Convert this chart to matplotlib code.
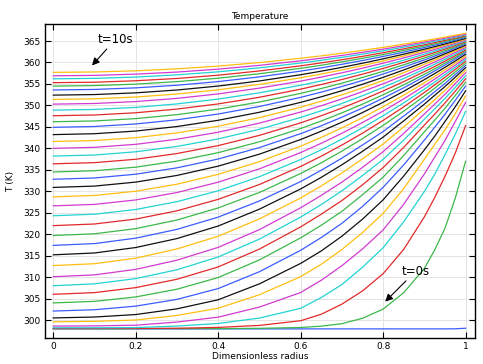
import matplotlib
matplotlib.use("Agg")
import matplotlib.pyplot as plt

# dimensionless radius where each profile was read
radius = [0, 0.1, 0.2, 0.3, 0.4, 0.5, 0.6, 0.65, 0.7, 0.75, 0.8, 0.85, 0.9, 0.925, 0.95, 0.975, 1.0]

# temperature profiles (K), one row per output time, t = 0 s ... 10 s
profiles = [
    [297.95, 297.95, 297.95, 297.95, 297.95, 297.95, 297.95, 297.95, 297.95, 297.95, 297.95, 297.95, 297.95, 297.95, 297.95, 297.97, 298.1],
    [298.0, 298.0, 298.0, 298.0, 298.0, 298.08, 298.27, 298.59, 299.17, 300.42, 302.56, 306.39, 312.04, 316.33, 321.4, 328.42, 337.0],
    [298.05, 298.05, 298.05, 298.1, 298.29, 298.76, 299.85, 301.36, 303.72, 306.79, 310.81, 316.48, 324.04, 328.53, 333.49, 338.92, 345.3],
    [298.2, 298.2, 298.25, 298.6, 299.21, 300.47, 302.74, 305.26, 308.28, 312.31, 316.85, 322.9, 329.95, 333.98, 338.52, 343.31, 348.6],
    [298.6, 298.65, 298.81, 299.54, 300.68, 303.03, 306.42, 309.28, 312.67, 316.57, 321.0, 326.99, 334.03, 337.94, 341.84, 346.27, 350.7],
    [299.6, 299.71, 300.02, 301.07, 302.76, 305.91, 310.12, 313.01, 316.43, 320.38, 324.85, 330.63, 337.47, 340.89, 344.31, 348.1, 352.2],
    [300.5, 300.71, 301.29, 302.62, 304.73, 308.44, 313.2, 316.11, 319.54, 323.51, 328.01, 333.56, 339.65, 342.82, 346.26, 349.7, 353.4],
    [302.1, 302.41, 303.25, 304.82, 307.34, 311.27, 316.25, 319.23, 322.54, 326.47, 330.92, 336.16, 341.92, 344.91, 347.95, 351.2, 354.5],
    [304.0, 304.36, 305.39, 307.19, 309.91, 314.02, 319.16, 322.09, 325.33, 329.19, 333.3, 338.34, 343.84, 346.56, 349.33, 352.32, 355.4],
    [306.0, 306.4, 307.56, 309.51, 312.38, 316.54, 321.71, 324.67, 327.84, 331.5, 335.52, 340.24, 345.41, 347.97, 350.58, 353.34, 356.2],
    [308.0, 308.44, 309.66, 311.72, 314.7, 318.86, 323.99, 326.92, 330.1, 333.67, 337.44, 341.94, 346.78, 349.17, 351.62, 354.21, 356.9],
    [310.1, 310.53, 311.81, 313.95, 316.94, 321.07, 326.16, 329.05, 332.14, 335.56, 339.22, 343.49, 348.01, 350.29, 352.61, 355.08, 357.6],
    [312.7, 313.13, 314.43, 316.57, 319.53, 323.57, 328.44, 331.26, 334.27, 337.54, 341.0, 345.01, 349.19, 351.33, 353.51, 355.83, 358.2],
    [315.2, 315.63, 316.9, 318.99, 321.91, 325.84, 330.55, 333.25, 336.17, 339.31, 342.62, 346.42, 350.3, 352.35, 354.4, 356.58, 358.8],
    [317.4, 317.82, 319.08, 321.13, 323.98, 327.75, 332.27, 334.91, 337.72, 340.78, 343.92, 347.53, 351.21, 353.18, 355.11, 357.21, 359.3],
    [319.7, 320.1, 321.3, 323.31, 326.12, 329.73, 334.14, 336.64, 339.35, 342.26, 345.36, 348.67, 352.18, 354.01, 355.89, 357.82, 359.8],
    [322.0, 322.38, 323.53, 325.45, 328.13, 331.58, 335.79, 338.18, 340.77, 343.54, 346.51, 349.67, 353.02, 354.77, 356.57, 358.41, 360.3],
    [324.3, 324.66, 325.76, 327.58, 330.12, 333.4, 337.4, 339.68, 342.14, 344.78, 347.6, 350.6, 353.78, 355.44, 357.15, 358.9, 360.7],
    [326.6, 326.95, 327.98, 329.71, 332.12, 335.23, 339.02, 341.18, 343.51, 346.01, 348.68, 351.53, 354.55, 356.12, 357.74, 359.4, 361.1],
    [328.7, 329.03, 330.01, 331.65, 333.95, 336.9, 340.51, 342.56, 344.77, 347.15, 349.69, 352.4, 355.27, 356.76, 358.3, 359.88, 361.5],
    [330.9, 331.21, 332.14, 333.69, 335.86, 338.65, 342.06, 344.0, 346.09, 348.34, 350.74, 353.3, 356.01, 357.42, 358.88, 360.37, 361.9],
    [332.8, 333.1, 333.98, 335.46, 337.52, 340.18, 343.42, 345.26, 347.26, 349.39, 351.68, 354.11, 356.7, 358.04, 359.42, 360.84, 362.3],
    [334.5, 334.78, 335.62, 337.03, 339.0, 341.53, 344.62, 346.37, 348.27, 350.31, 352.48, 354.8, 357.26, 358.54, 359.86, 361.21, 362.6],
    [336.4, 336.67, 337.46, 338.79, 340.64, 343.03, 345.94, 347.6, 349.39, 351.31, 353.36, 355.55, 357.87, 359.07, 360.32, 361.59, 362.9],
    [338.2, 338.45, 339.2, 340.45, 342.2, 344.45, 347.2, 348.76, 350.45, 352.26, 354.2, 356.26, 358.45, 359.59, 360.76, 361.97, 363.2],
    [340.0, 340.24, 340.94, 342.12, 343.76, 345.88, 348.46, 349.93, 351.52, 353.22, 355.04, 356.98, 359.04, 360.11, 361.21, 362.34, 363.5],
    [341.6, 341.82, 342.49, 343.6, 345.15, 347.15, 349.59, 350.98, 352.48, 354.09, 355.81, 357.64, 359.58, 360.59, 361.64, 362.7, 363.8],
    [343.2, 343.41, 344.03, 345.08, 346.54, 348.41, 350.71, 352.01, 353.42, 354.93, 356.54, 358.26, 360.09, 361.04, 362.02, 363.02, 364.05],
    [344.9, 345.09, 345.68, 346.65, 348.0, 349.75, 351.88, 353.1, 354.41, 355.81, 357.32, 358.92, 360.61, 361.5, 362.41, 363.34, 364.3],
    [346.2, 346.38, 346.93, 347.85, 349.14, 350.79, 352.81, 353.95, 355.19, 356.52, 357.94, 359.46, 361.06, 361.9, 362.76, 363.64, 364.55],
    [347.6, 347.77, 348.29, 349.15, 350.35, 351.9, 353.79, 354.87, 356.03, 357.28, 358.61, 360.03, 361.53, 362.32, 363.12, 363.95, 364.8],
    [348.9, 349.06, 349.54, 350.35, 351.48, 352.93, 354.7, 355.7, 356.79, 357.96, 359.2, 360.53, 361.94, 362.68, 363.43, 364.21, 365.0],
    [350.3, 350.45, 350.9, 351.64, 352.68, 354.03, 355.66, 356.6, 357.6, 358.68, 359.84, 361.07, 362.37, 363.05, 363.75, 364.46, 365.2],
    [351.4, 351.54, 351.96, 352.66, 353.64, 354.9, 356.44, 357.32, 358.26, 359.28, 360.36, 361.52, 362.74, 363.38, 364.04, 364.71, 365.4],
    [352.4, 352.53, 352.93, 353.59, 354.51, 355.7, 357.15, 357.98, 358.87, 359.83, 360.85, 361.94, 363.09, 363.69, 364.31, 364.95, 365.6],
    [353.6, 353.72, 354.09, 354.7, 355.55, 356.65, 357.99, 358.75, 359.58, 360.46, 361.41, 362.41, 363.48, 364.04, 364.61, 365.2, 365.8],
    [354.5, 354.62, 354.96, 355.54, 356.34, 357.38, 358.64, 359.36, 360.14, 360.97, 361.86, 362.81, 363.82, 364.34, 364.88, 365.43, 366.0],
    [355.3, 355.41, 355.74, 356.28, 357.04, 358.03, 359.22, 359.91, 360.64, 361.43, 362.28, 363.18, 364.13, 364.63, 365.14, 365.66, 366.2],
    [356.2, 356.3, 356.61, 357.12, 357.83, 358.75, 359.87, 360.51, 361.2, 361.94, 362.73, 363.57, 364.46, 364.93, 365.41, 365.9, 366.4],
    [356.9, 357.0, 357.29, 357.77, 358.45, 359.33, 360.39, 361.0, 361.65, 362.36, 363.11, 363.91, 364.76, 365.2, 365.65, 366.12, 366.6],
    [357.7, 357.79, 358.06, 358.52, 359.16, 359.98, 360.98, 361.54, 362.16, 362.82, 363.52, 364.27, 365.07, 365.49, 365.91, 366.35, 366.8],
]

line_colors = ["#3a5cff", "#3cb84a", "#e22a2a", "#22d3d3", "#d23ad2", "#ffbe10", "#111111"]

x_ticks = [0, 0.2, 0.4, 0.6, 0.8, 1]
x_tick_labels = ["0", "0.2", "0.4", "0.6", "0.8", "1"]
y_ticks = list(range(300, 366, 5))

fig = plt.figure(figsize=(4.83, 3.64), dpi=100)
ax = fig.add_axes([0.0932, 0.0723, 0.890, 0.861])

for i, row in enumerate(profiles):
    ax.plot(radius, row, color=line_colors[i % len(line_colors)], lw=0.9,
            solid_joinstyle="round")

ax.set_xlim(-0.02, 1.0225)
ax.set_ylim(295.9, 368.9)
ax.set_xticks(x_ticks)
ax.set_xticklabels(x_tick_labels)
ax.set_yticks(y_ticks)
ax.grid(True, color="#e4e4e4", lw=0.7)
ax.set_axisbelow(True)
ax.tick_params(direction="in", top=True, right=True, length=4, width=0.8,
               labelsize=6.5, pad=3)
for s in ax.spines.values():
    s.set_linewidth(1.0)

ax.set_title("Temperature", fontsize=6.5, pad=4)
ax.set_xlabel("Dimensionless radius", fontsize=6.5, labelpad=1)
ax.set_ylabel("T (K)", fontsize=6.5, labelpad=6)

arrow = dict(arrowstyle="-|>", color="black", lw=0.8, mutation_scale=11,
             shrinkA=0, shrinkB=0)
ax.annotate("t=10s", xy=(0.094, 359.3), xytext=(0.15, 365.3), fontsize=8.5,
            ha="center", va="center", arrowprops=arrow)
ax.annotate("t=0s", xy=(0.805, 304.3), xytext=(0.878, 311.3), fontsize=8.5,
            ha="center", va="center", arrowprops=arrow)

fig.savefig("out.png", dpi=100)
